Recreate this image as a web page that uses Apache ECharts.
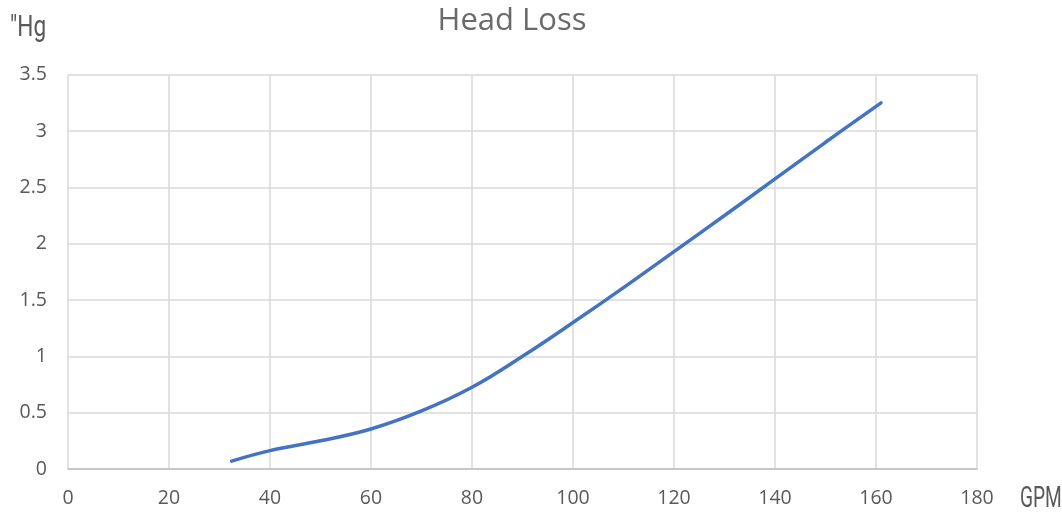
<!DOCTYPE html>
<html>
<head>
<meta charset="utf-8">
<script src="https://cdn.jsdelivr.net/npm/echarts@6/dist/echarts.min.js"></script>
<style>html,body{margin:0;padding:0;background:#fff}#c{width:1062px;height:516px}</style>
</head>
<body>
<div id="c"></div>
<script>
const titleText = 'Head Loss';
const xUnit = 'GPM';
const yUnit = '"Hg';
const gpm = [32.4, 40, 50, 60, 70, 80, 90, 100, 110, 120, 130, 140, 150, 161];
const headLoss = [0.07, 0.163, 0.25, 0.355, 0.515, 0.725, 1.0, 1.30, 1.61, 1.93, 2.25, 2.575, 2.9, 3.25];

const chart = echarts.init(document.getElementById('c'));
const gray = '#595959';
chart.setOption({
  animation: false,
  title: {
    text: titleText, left: 507, top: 1, textAlign: 'center',
    textStyle: { color: '#6a6a6a', fontSize: 31, fontWeight: 'normal', fontFamily: 'Open Sans' }
  },
  graphic: [
    { type: 'text', x: 10, y: 14, scaleX: 0.78, style: { text: yUnit, fill: gray, fontSize: 29, fontFamily: 'Roboto' } },
    { type: 'text', x: 1020, y: 485, scaleX: 0.66, style: { text: xUnit, fill: gray, fontSize: 29, fontFamily: 'Roboto' } }
  ],
  grid: { left: 68, right: 85, top: 74.7, bottom: 47, containLabel: false },
  xAxis: {
    type: 'value', min: 0, max: 180, interval: 20,
    axisLine: { show: true, lineStyle: { color: '#bfbfbf', width: 1.5 } },
    axisTick: { show: false },
    axisLabel: { color: gray, fontSize: 19.5, fontFamily: 'Open Sans', margin: 19 },
    splitLine: { show: true, lineStyle: { color: '#d9d9d9', width: 1.5 } }
  },
  yAxis: {
    type: 'value', min: 0, max: 3.5, interval: 0.5,
    axisLine: { show: false },
    axisTick: { show: false },
    axisLabel: { color: gray, fontSize: 19.5, fontFamily: 'Open Sans', margin: 21 },
    splitLine: { show: true, lineStyle: { color: '#d9d9d9', width: 1.5 } }
  },
  series: [{
    type: 'line', smooth: 0.4, showSymbol: false, symbol: 'none',
    data: gpm.map((x, i) => [x, headLoss[i]]),
    lineStyle: { color: '#4472C4', width: 3.5, cap: 'round' }
  }]
});
</script>
</body>
</html>
